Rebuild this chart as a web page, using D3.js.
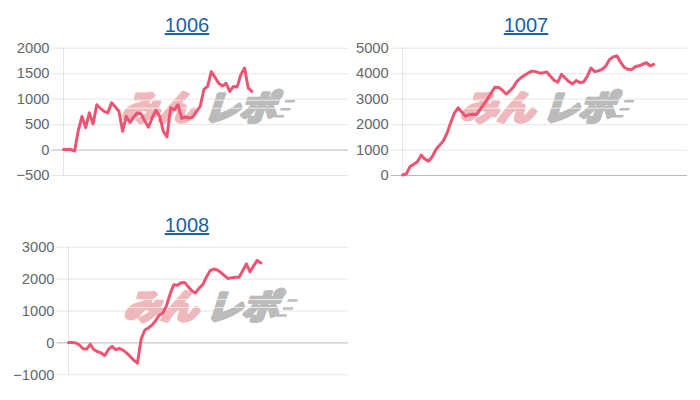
<!DOCTYPE html>
<html>
<head>
<meta charset="utf-8">
<script src="https://cdn.jsdelivr.net/npm/d3@7"></script>
<style>
  html, body { margin: 0; padding: 0; background: #fff; }
  svg { display: block; }
</style>
</head>
<body>
<svg id="chart" width="700" height="400"></svg>
<script>
// ---- data ----
const titles = ["1006", "1007", "1008"];
const slotCount = 78;

const values1006 = [0, 0, 0, -30, 370, 650, 430, 720, 500, 880, 810, 750, 720, 920, 840, 750,
  360, 650, 530, 640, 720, 700, 560, 440, 620, 770, 660, 360, 250, 820, 785, 880,
  610, 640, 620, 640, 750, 850, 1180, 1240, 1530, 1420, 1300, 1250, 1300, 1140, 1240, 1230,
  1470, 1600, 1210, 1140];

const values1007 = [0, 50, 330, 420, 520, 780, 630, 540, 720, 1000, 1170, 1340, 1640, 2050, 2430, 2640,
  2470, 2310, 2370, 2390, 2380, 2590, 2780, 2990, 3230, 3450, 3440, 3330, 3180, 3300, 3460, 3690,
  3820, 3920, 4010, 4080, 4060, 4010, 4010, 4050, 3880, 3720, 3650, 3950, 3810, 3670, 3580, 3710,
  3630, 3650, 3880, 4200, 4060, 4090, 4150, 4280, 4530, 4640, 4680, 4430, 4230, 4150, 4140, 4250,
  4290, 4350, 4410, 4290, 4340];

const values1008 = [0, 0, -20, -80, -200, -210, -60, -230, -290, -330, -410, -220, -125, -230, -190, -240,
  -330, -440, -560, -650, 100, 380, 450, 540, 680, 850, 920, 1150, 1520, 1810, 1790, 1870,
  1880, 1740, 1620, 1550, 1700, 1810, 2050, 2250, 2300, 2270, 2190, 2090, 2000, 2030, 2040, 2040,
  2250, 2460, 2210, 2400, 2570, 2490];

const ticks1006 = [-500, 0, 500, 1000, 1500, 2000];
const ticks1007 = [0, 1000, 2000, 3000, 4000, 5000];
const ticks1008 = [-1000, 0, 1000, 2000, 3000];

// ---- layout (positions only) ----
const panels = [
  { title: titles[0], values: values1006, ticks: ticks1006, left: 63.5, right: 348, top: 47.7, bottom: 175, titleX: 187, titleY: 32 },
  { title: titles[1], values: values1007, ticks: ticks1007, left: 402.7, right: 687, top: 47.7, bottom: 175, titleX: 526, titleY: 32 },
  { title: titles[2], values: values1008, ticks: ticks1008, left: 68.5, right: 348, top: 246.7, bottom: 374.3, titleX: 187, titleY: 232 }
];

const svg = d3.select("#chart");
const LINE_COLOR = "#ee5472";
const TICK_LEN = 12;

panels.forEach(p => {
  const g = svg.append("g");
  const x = d3.scaleLinear().domain([0, slotCount - 1]).range([p.left, p.right]);
  const y = d3.scaleLinear().domain(d3.extent(p.ticks)).range([p.bottom, p.top]);

  // title
  g.append("text")
    .attr("x", p.titleX).attr("y", p.titleY)
    .attr("text-anchor", "middle")
    .attr("font-family", "'Liberation Sans', Arial, sans-serif")
    .attr("font-size", 20)
    .attr("fill", "#1b5fa6")
    .attr("text-decoration", "underline")
    .text(p.title);

  // y axis with gridlines
  const span = p.right - p.left + TICK_LEN;
  const axis = d3.axisLeft(y).tickValues(p.ticks).tickSize(span).tickPadding(2).tickFormat(d3.format("d"));
  const ag = g.append("g").attr("transform", `translate(${p.right},0)`).call(axis);
  ag.select(".domain").remove();
  ag.selectAll(".tick line")
    .attr("stroke", d => d === 0 ? "rgba(0,0,0,0.28)" : "rgba(0,0,0,0.1)")
    .attr("stroke-width", 1);
  ag.selectAll(".tick text")
    .attr("fill", "#666")
    .attr("font-family", "'Liberation Sans', Arial, sans-serif")
    .attr("font-size", 14.7);

  // left axis line
  g.append("line")
    .attr("x1", p.left).attr("x2", p.left)
    .attr("y1", p.top).attr("y2", p.bottom)
    .attr("stroke", "rgba(0,0,0,0.1)");

  // watermark
  const cx = (p.left + p.right) / 2;
  const cy = (p.top + p.bottom) / 2 - 6;
  const wm = g.append("g").attr("transform", `translate(${cx},${cy}) skewX(-18)`);
  wm.append("text")
    .attr("x", -80).attr("y", 0)
    .attr("dominant-baseline", "central")
    .attr("font-family", "'Noto Sans CJK JP', sans-serif")
    .attr("font-weight", 700).attr("font-size", 34)
    .attr("textLength", 74).attr("lengthAdjust", "spacingAndGlyphs")
    .attr("fill", "#efb8bc").attr("stroke", "#efb8bc").attr("stroke-width", 4)
    .attr("stroke-linejoin", "round")
    .text("みん");
  wm.append("text")
    .attr("x", 2).attr("y", 0)
    .attr("dominant-baseline", "central")
    .attr("font-family", "'Noto Sans CJK JP', sans-serif")
    .attr("font-weight", 700).attr("font-size", 34)
    .attr("textLength", 72).attr("lengthAdjust", "spacingAndGlyphs")
    .attr("fill", "#bbbbbb").attr("stroke", "#bbbbbb").attr("stroke-width", 4)
    .attr("stroke-linejoin", "round")
    .text("レポ");
  [-5, 3].forEach(dy => {
    wm.append("line")
      .attr("x1", -84).attr("x2", 84)
      .attr("y1", dy).attr("y2", dy)
      .attr("stroke", "#fff").attr("stroke-width", 1).attr("opacity", 0.7);
  });
  [[-4, 78, 88], [4, 76, 86], [11, 72, 82]].forEach(([dy, a, b]) => {
    wm.append("line")
      .attr("x1", a).attr("x2", b)
      .attr("y1", dy).attr("y2", dy)
      .attr("stroke", "#bbbbbb").attr("stroke-width", 2.5);
  });

  // data line
  const line = d3.line().x((d, i) => x(i)).y(d => y(d));
  g.append("path")
    .datum(p.values)
    .attr("d", line)
    .attr("fill", "none")
    .attr("stroke", LINE_COLOR)
    .attr("stroke-width", 3)
    .attr("stroke-linejoin", "round")
    .attr("stroke-linecap", "round");
});
</script>
</body>
</html>
